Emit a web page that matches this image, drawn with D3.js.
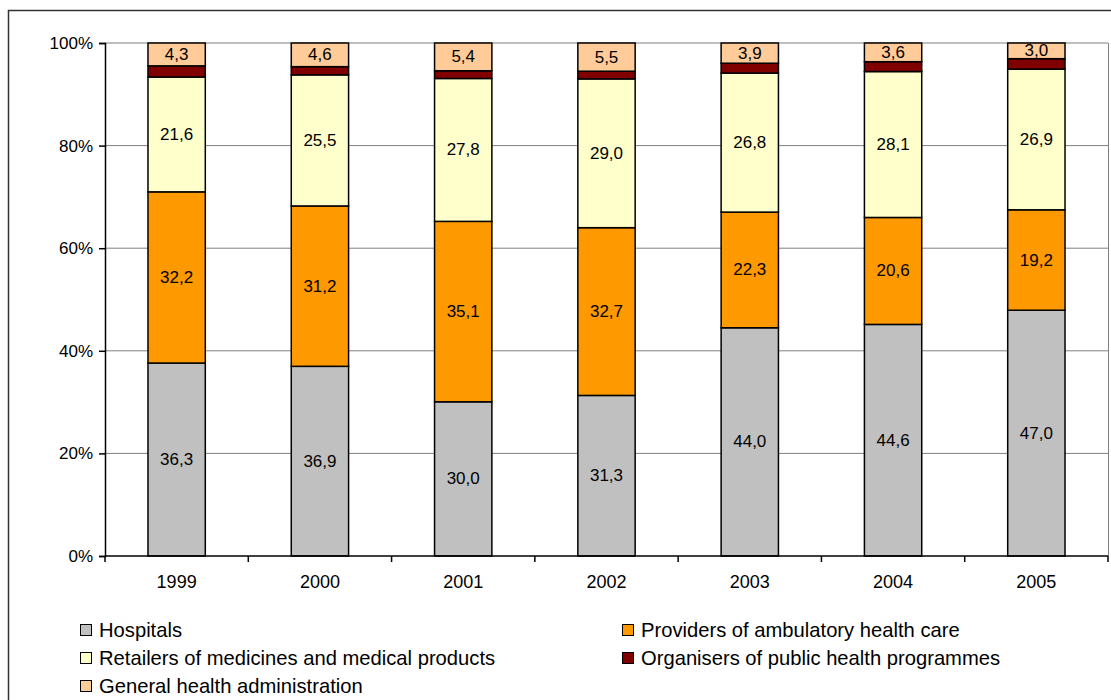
<!DOCTYPE html>
<html>
<head>
<meta charset="utf-8">
<script src="https://cdn.jsdelivr.net/npm/d3@7"></script>
<style>
  body { margin: 0; background: #fff; }
  svg { font-family: "Liberation Sans", Arial, sans-serif; }
</style>
</head>
<body>
<svg id="canvas" width="1111" height="700"></svg>
<script>
var years = ["1999", "2000", "2001", "2002", "2003", "2004", "2005"];
var hospitals = [36.3, 36.9, 30.0, 31.3, 44.0, 44.6, 47.0];
var providers = [32.2, 31.2, 35.1, 32.7, 22.3, 20.6, 19.2];
var retailers = [21.6, 25.5, 27.8, 29.0, 26.8, 28.1, 26.9];
// no labels on this series in the picture, estimated from band heights
var organisers = [2.1, 1.6, 1.5, 1.5, 1.9, 1.9, 2.0];
var general = [4.3, 4.6, 5.4, 5.5, 3.9, 3.6, 3.0];

var seriesNames = ["Hospitals", "Providers of ambulatory health care", "Retailers of medicines and medical products",
  "Organisers of public health programmes", "General health administration"];
var seriesKeys = ["hosp", "prov", "ret", "org", "gen"];
var colors = ["#c0c0c0", "#ff9900", "#ffffcc", "#800000", "#ffcc99"];
var labelled = [true, true, true, false, true];
var yTicks = [0, 0.2, 0.4, 0.6, 0.8, 1];

var rows = years.map(function(y, i) {
  return {year: y, hosp: hospitals[i], prov: providers[i], ret: retailers[i], org: organisers[i], gen: general[i]};
});

var svg = d3.select("#canvas");

// outer chart frame (runs off the right/bottom edge)
svg.append("rect")
  .attr("x", 8.5).attr("y", 10.5)
  .attr("width", 1120).attr("height", 710)
  .attr("fill", "none").attr("stroke", "#333").attr("stroke-width", 1.5);

var plotLeft = 105, plotRight = 1108, plotTop = 43, plotBottom = 556;

var x = d3.scaleBand().domain(years).range([plotLeft, plotRight]).paddingInner(0.6).paddingOuter(0.3);
var y = d3.scaleLinear().domain([0, 1]).range([plotBottom, plotTop]);

// gridlines
svg.append("g").selectAll("line")
  .data(yTicks.slice(1))
  .enter().append("line")
    .attr("x1", plotLeft).attr("x2", plotRight)
    .attr("y1", function(d) { return y(d); }).attr("y2", function(d) { return y(d); })
    .attr("stroke", "#808080").attr("stroke-width", 1);

// plot right border
svg.append("line")
  .attr("x1", plotRight + 0.5).attr("x2", plotRight + 0.5)
  .attr("y1", plotTop).attr("y2", plotBottom)
  .attr("stroke", "#808080");

var stack = d3.stack().keys(seriesKeys).offset(d3.stackOffsetExpand);
var layers = stack(rows);

var g = svg.selectAll(".layer")
  .data(layers)
  .enter().append("g")
    .attr("class", "layer")
    .attr("fill", function(d, i) { return colors[i]; });

g.selectAll("rect")
  .data(function(d) { return d; })
  .enter().append("rect")
    .attr("x", function(d) { return x(d.data.year); })
    .attr("y", function(d) { return y(d[1]); })
    .attr("width", x.bandwidth())
    .attr("height", function(d) { return y(d[0]) - y(d[1]); })
    .attr("stroke", "#000").attr("stroke-width", 1.5);

// value labels
layers.forEach(function(layer, i) {
  if (!labelled[i]) return;
  svg.append("g").selectAll("text")
    .data(layer)
    .enter().append("text")
      .attr("x", function(d) { return x(d.data.year) + x.bandwidth() / 2; })
      .attr("y", function(d) { return (y(d[0]) + y(d[1])) / 2; })
      .attr("text-anchor", "middle")
      .attr("dominant-baseline", "central")
      .style("font-size", "17px")
      .attr("fill", "#000")
      .text(function(d) { return d.data[layer.key].toFixed(1).replace(".", ","); });
});

// y axis
var yAxis = d3.axisLeft(y).tickValues(yTicks).tickFormat(d3.format(".0%")).tickSize(6).tickPadding(6);
var ya = svg.append("g")
  .attr("transform", "translate(" + plotLeft + ",0)")
  .call(yAxis);
ya.select(".domain").attr("stroke", "#000").attr("stroke-width", 1.5);
ya.selectAll(".tick line").attr("stroke", "#000").attr("stroke-width", 1.5);
ya.selectAll("text").style("font-size", "17px").attr("fill", "#000")
  .attr("font-family", "Liberation Sans, Arial, sans-serif");

// x axis: line, ticks at category boundaries, labels centered
svg.append("line")
  .attr("x1", plotLeft).attr("x2", plotRight)
  .attr("y1", plotBottom).attr("y2", plotBottom)
  .attr("stroke", "#000").attr("stroke-width", 1.5);

var gap = (x.step() - x.bandwidth()) / 2;
var bounds = years.map(function(d) { return x(d) - gap; }).concat([plotRight]);
svg.append("g").selectAll("line")
  .data(bounds)
  .enter().append("line")
    .attr("x1", function(d) { return d; }).attr("x2", function(d) { return d; })
    .attr("y1", plotBottom).attr("y2", plotBottom + 6)
    .attr("stroke", "#000").attr("stroke-width", 1.5);

svg.append("g").selectAll("text")
  .data(years)
  .enter().append("text")
    .attr("x", function(d) { return x(d) + x.bandwidth() / 2; })
    .attr("y", 582)
    .attr("text-anchor", "middle")
    .attr("dominant-baseline", "central")
    .style("font-size", "18px")
    .text(function(d) { return d; });

// legend, two columns
var legendPos = [[80, 630], [622, 630], [80, 658], [622, 658], [80, 686]];
var lg = svg.selectAll(".legend")
  .data(seriesNames)
  .enter().append("g")
    .attr("class", "legend")
    .attr("transform", function(d, i) { return "translate(" + legendPos[i][0] + "," + legendPos[i][1] + ")"; });
lg.append("rect")
  .attr("x", 0.5).attr("y", -5.5)
  .attr("width", 11).attr("height", 11)
  .attr("fill", function(d, i) { return colors[i]; })
  .attr("stroke", "#000").attr("stroke-width", 1);
lg.append("text")
  .attr("x", 19).attr("y", 0)
  .attr("dominant-baseline", "central")
  .style("font-size", "20.2px")
  .text(function(d) { return d; });
</script>
</body>
</html>
